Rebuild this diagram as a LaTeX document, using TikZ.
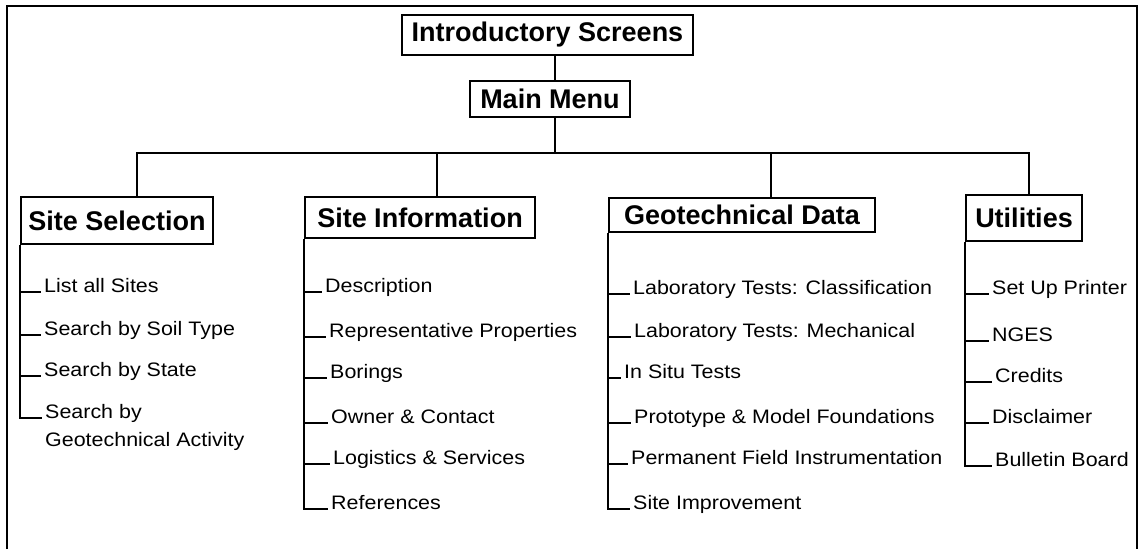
\documentclass[tikz,border=0pt]{standalone}
\usepackage{fontspec}
\setmainfont{Liberation Sans}
\newfontfamily\itemfont[FakeStretch=1.1]{Liberation Sans}
\begin{document}
\begin{tikzpicture}[x=1pt,y=-1pt,
  hbox/.style={draw,line width=1.6pt,inner sep=0pt,font=\fontsize{27}{30}\selectfont\bfseries},
  itm/.style={anchor=base west,inner sep=0pt,font=\itemfont\fontsize{19.5}{22}\selectfont},
  conn/.style={line width=1.6pt},
  tick/.style={line width=1.4pt}]
\useasboundingbox (0,0) rectangle (1140,549);
% frame
\draw[line width=1.4pt] (7,549) -- (7,6) -- (1137,6) -- (1137,549);
% header boxes
\node[hbox,minimum width=291pt,minimum height=40pt] (intro) at (547.5,35) {Introductory Screens};
\node[hbox,minimum width=160pt,minimum height=36pt] (main) at (550,99) {Main Menu};
\node[hbox,minimum width=192pt,minimum height=47pt] (ss) at (117,220.5) {Site Selection};
\node[hbox,minimum width=230pt,minimum height=41pt] (si) at (420,217.5) {Site Information};
\node[hbox,minimum width=266pt,minimum height=34pt] (gd) at (742,215) {Geotechnical Data};
\node[hbox,minimum width=116pt,minimum height=46pt] (ut) at (1024,218) {Utilities};
% connector positions
\coordinate (stem) at (555,0);
\coordinate (bus) at (0,153);
\coordinate (dss) at (137,0);
\coordinate (dsi) at (437,0);
\coordinate (dgd) at (771,0);
\coordinate (dut) at (1029,0);
\draw[conn] (stem |- intro.south) -- (stem |- main.north);
\draw[conn] (stem |- main.south) -- (stem |- bus);
\draw[conn] (dss |- ss.north) -- (dss |- bus) -- (dut |- bus) -- (dut |- ut.north);
\draw[conn] (dsi |- bus) -- (dsi |- si.north);
\draw[conn] (dgd |- bus) -- (dgd |- gd.north);
% Site Selection items
\node[itm] (ss1) at (44,292) {List all Sites};
\node[itm] (ss2) at (44,335) {Search by Soil Type};
\node[itm] (ss3) at (44,376) {Search by State};
\node[itm] (ss4) at (45,418) {Search by};
\node[itm] (ss5) at (45,446) {Geotechnical Activity};
\draw[conn] (ss.south west) -- (ss.west |- ss4.base) -- ([xshift=-3pt]ss4.base west);
\foreach \i in {1,2,3} \draw[tick] (ss.west |- ss\i.base) -- ([xshift=-3pt]ss\i.base west);
% Site Information items
\node[itm] (si1) at (325,292) {Description};
\node[itm] (si2) at (329,337) {Representative Properties};
\node[itm] (si3) at (330,378) {Borings};
\node[itm] (si4) at (331,423) {Owner \& Contact};
\node[itm] (si5) at (333,464) {Logistics \& Services};
\node[itm] (si6) at (331,509) {References};
\draw[conn] (si.south west) -- (si.west |- si6.base) -- ([xshift=-3pt]si6.base west);
\foreach \i in {1,...,5} \draw[tick] (si.west |- si\i.base) -- ([xshift=-3pt]si\i.base west);
% Geotechnical Data items
\node[itm] (gd1) at (633,294) {Laboratory Tests: Classification};
\node[itm] (gd2) at (634,337) {Laboratory Tests: Mechanical};
\node[itm] (gd3) at (624,378) {In Situ Tests};
\node[itm] (gd4) at (634,423) {Prototype \& Model Foundations};
\node[itm] (gd5) at (631,464) {Permanent Field Instrumentation};
\node[itm] (gd6) at (633,509) {Site Improvement};
\draw[conn] (gd.south west) -- (gd.west |- gd6.base) -- ([xshift=-3pt]gd6.base west);
\foreach \i in {1,...,5} \draw[tick] (gd.west |- gd\i.base) -- ([xshift=-3pt]gd\i.base west);
% Utilities items
\node[itm] (ut1) at (992,294) {Set Up Printer};
\node[itm] (ut2) at (992,341) {NGES};
\node[itm] (ut3) at (995,382) {Credits};
\node[itm] (ut4) at (992,423) {Disclaimer};
\node[itm] (ut5) at (995,466) {Bulletin Board};
\draw[conn] (ut.south west) -- (ut.west |- ut5.base) -- ([xshift=-3pt]ut5.base west);
\foreach \i in {1,...,4} \draw[tick] (ut.west |- ut\i.base) -- ([xshift=-3pt]ut\i.base west);
\end{tikzpicture}
\end{document}
